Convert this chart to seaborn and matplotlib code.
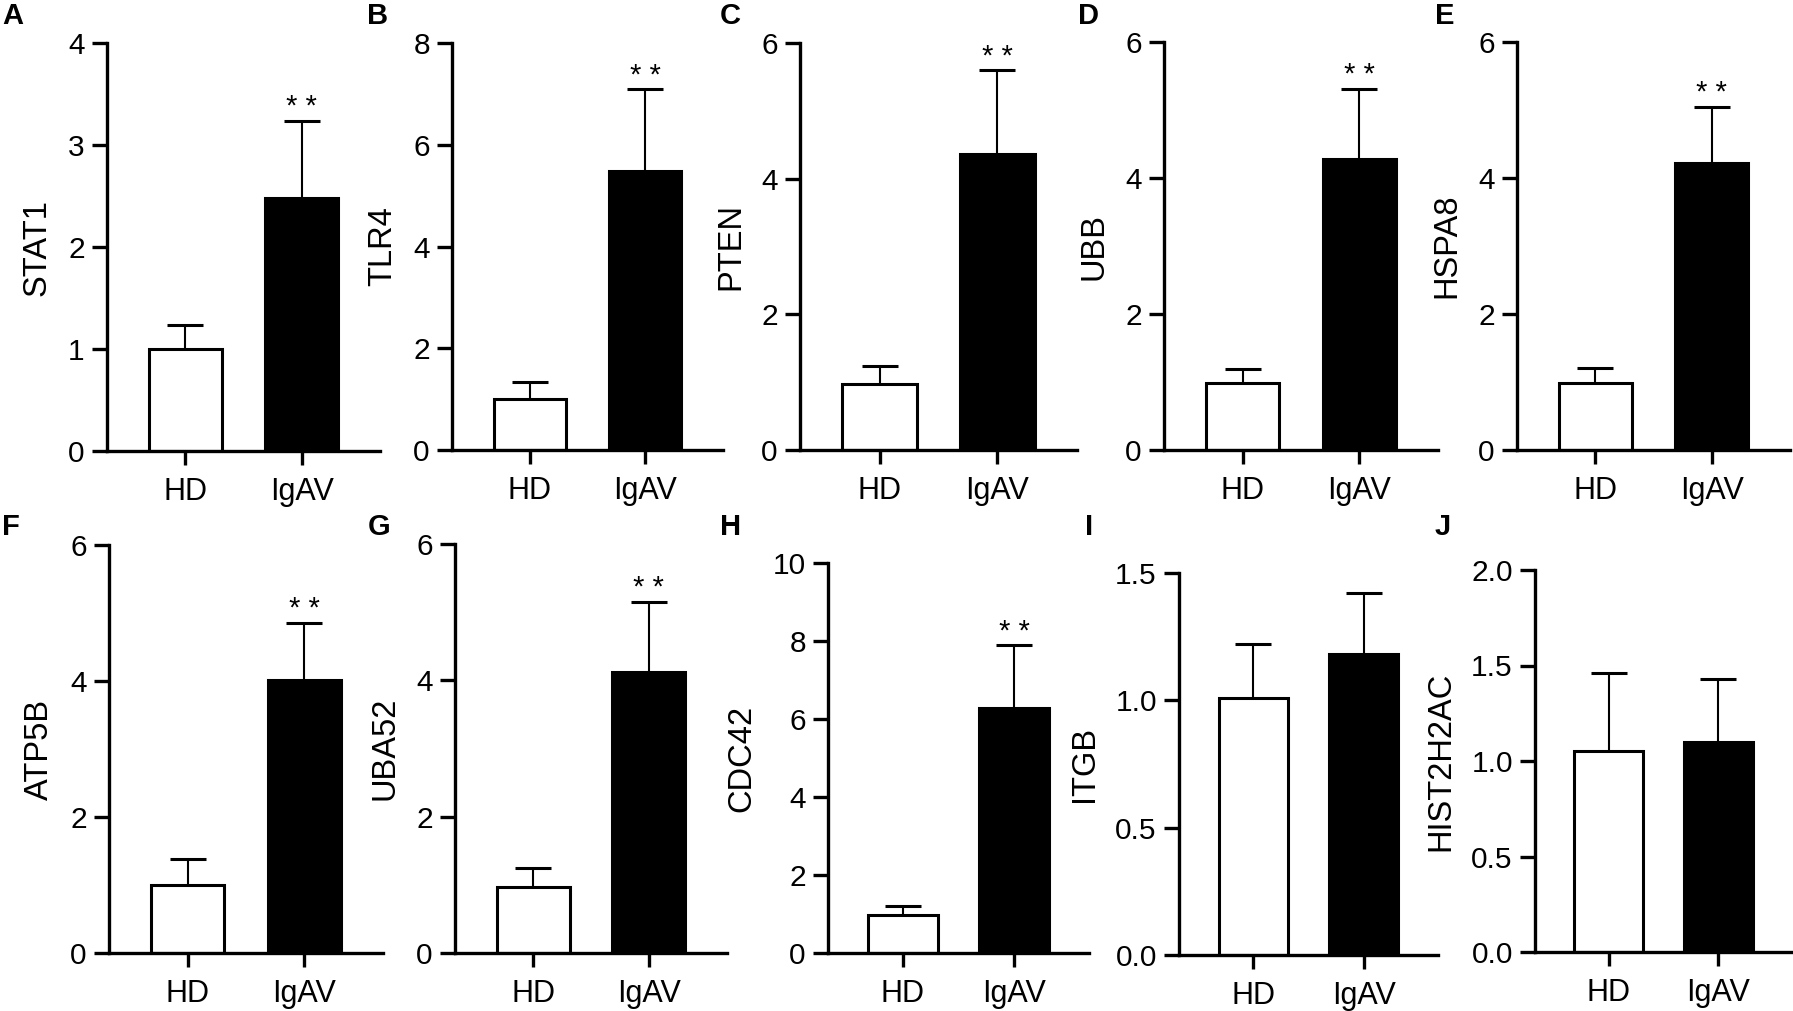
import matplotlib
matplotlib.use("Agg")
import matplotlib.pyplot as plt
from matplotlib.ticker import MultipleLocator, FormatStrFormatter
import seaborn as sns
import pandas as pd

# ---------------- data ----------------
groups = ["HD", "IgAV"]
genes = ["STAT1", "TLR4", "PTEN", "UBB", "HSPA8",
         "ATP5B", "UBA52", "CDC42", "ITGB", "HIST2H2AC"]
panel_letters = ["A", "B", "C", "D", "E", "F", "G", "H", "I", "J"]
hd_mean = [1.00, 1.00, 0.98, 0.98, 0.98, 1.00, 0.97, 0.97, 1.01, 1.05]
hd_upper = [1.24, 1.34, 1.24, 1.19, 1.20, 1.38, 1.25, 1.21, 1.22, 1.46]
igav_mean = [2.48, 5.49, 4.36, 4.28, 4.22, 4.01, 4.12, 6.27, 1.18, 1.10]
igav_upper = [3.24, 7.09, 5.60, 5.31, 5.05, 4.86, 5.15, 7.89, 1.42, 1.43]
ymax = [4, 8, 6, 6, 6, 6, 6, 10, 1.5, 2.0]
ystep = [1, 2, 2, 2, 2, 2, 2, 2, 0.5, 0.5]
signif = ["* *", "* *", "* *", "* *", "* *", "* *", "* *", "* *", "", ""]

# ---------------- layout (pixels: spine x, axis end x, top y, zero y) ----------------
W, H = 1793, 1011
layout = [(107, 380, 43, 451), (452, 723, 43, 450), (800, 1077, 43, 450),
          (1164, 1438, 42, 450), (1517, 1790, 42, 450),
          (109, 383, 545, 953), (455, 727, 544, 953), (828, 1089, 563, 953),
          (1179, 1438, 573, 955), (1535, 1792, 570, 952)]
letter_pos = [(2, 2), (367, 2), (720, 2), (1078, 2), (1435, 2),
              (2, 513), (368, 513), (720, 513), (1085, 513), (1435, 513)]

sns.set_style("ticks")
plt.rcParams["font.family"] = ["Liberation Sans", "DejaVu Sans"]
plt.rcParams["axes.linewidth"] = 2.4
for key in ["text.color", "axes.labelcolor", "xtick.color", "ytick.color",
            "axes.edgecolor"]:
    plt.rcParams[key] = "black"

fig = plt.figure(figsize=(W / 100, H / 100), dpi=100)

for i, gene in enumerate(genes):
    x0, x1, ytop, yzero = layout[i]
    ax = fig.add_axes([x0 / W, 1 - yzero / H, (x1 - x0) / W, (yzero - ytop) / H])
    df = pd.DataFrame({"group": groups, "value": [hd_mean[i], igav_mean[i]]})
    sns.barplot(data=df, x="group", y="value", hue="group",
                palette={"HD": "white", "IgAV": "black"}, order=groups,
                hue_order=groups, edgecolor="black", linewidth=2.2,
                width=0.63, legend=False, errorbar=None, ax=ax, zorder=2)
    means = [hd_mean[i], igav_mean[i]]
    ups = [hd_upper[i] - hd_mean[i], igav_upper[i] - igav_mean[i]]
    eb = ax.errorbar([0, 1], means, yerr=[[0, 0], ups], fmt="none",
                     ecolor="black", elinewidth=1.5, capsize=13.3,
                     capthick=2.2, zorder=3)
    for cl in eb[1]:
        if abs(cl.get_ydata()[0] - means[0]) < 1e-9:
            cl.set_visible(False)
    if signif[i]:
        ax.annotate(signif[i], xy=(1, igav_upper[i]), xytext=(0, 4),
                    textcoords="offset points", ha="center", va="baseline",
                    fontsize=21, clip_on=False)
    ax.set_xlim(-0.675, 1.675)
    ax.set_ylim(0, ymax[i])
    ax.yaxis.set_major_locator(MultipleLocator(ystep[i]))
    if ystep[i] < 1:
        ax.yaxis.set_major_formatter(FormatStrFormatter("%.1f"))
    else:
        ax.yaxis.set_major_formatter(FormatStrFormatter("%d"))
    ax.set_xlabel("")
    ax.set_ylabel(gene, fontsize=23.5, labelpad=11)
    ax.tick_params(axis="y", direction="out", length=11, width=2.4,
                   labelsize=21.5, pad=5)
    ax.tick_params(axis="x", direction="out", length=10, width=2.4,
                   labelsize=22, pad=9)
    sns.despine(ax=ax)
    ax.spines["left"].set_bounds(0, ymax[i])
    lx, ly = letter_pos[i]
    fig.text(lx / W, 1 - ly / H, panel_letters[i], ha="left", va="top",
             fontsize=21, fontweight="bold")

fig.savefig("out.png", dpi=100)
